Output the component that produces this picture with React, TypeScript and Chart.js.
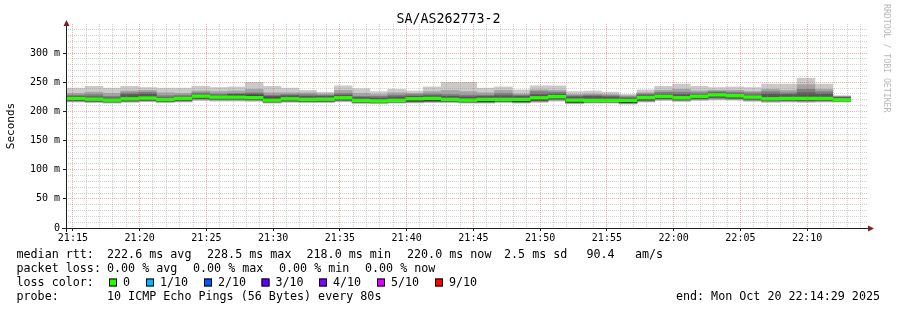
import React, { useEffect, useRef } from 'react';
import { Chart, registerables } from 'chart.js';

Chart.register(...registerables);

// ---- time frame (seconds after 21:00:00) ----
const startTime = 869; // 21:14:29
const endTime = 4469; // 22:14:29
const firstStep = 875; // first 80 s step begins 21:14:35
const stepSeconds = 80;

// ---- sorted ping RTTs per 80 s step (ms): rtt1 = fastest ... rtt10 = slowest ----
const rtt10 = [240, 243, 240, 243, 241, 240, 240, 243, 241, 242, 250, 243, 240, 236, 233, 244, 239, 234, 238, 235, 242, 250, 250, 240, 242, 237, 244, 244, 234, 235, 233, 229, 237, 243, 247, 243, 241, 242, 241, 247, 247, 257, 247, 227];
const rtt9 = [231, 233, 231, 235, 236, 232, 231, 235, 234, 235, 238, 232, 232, 232, 230, 236, 231, 229, 232, 231, 234, 236, 234, 232, 236, 230, 237, 236, 229, 230, 229, 227, 232, 236, 238, 235, 236, 236, 234, 238, 236, 246, 238, 226];
const rtt8 = [228, 229, 226, 232, 233, 227, 228, 232, 230, 231, 232, 228, 229, 229, 228, 231, 226, 226, 228, 229, 230, 229, 228, 228, 231, 228, 234, 233, 227, 228, 227, 225, 230, 233, 233, 232, 234, 233, 232, 234, 232, 238, 234, 225];
const rtt7 = [226, 225, 223, 229, 230, 224, 225, 230, 228, 229, 230, 226, 227, 226, 226, 228, 224, 223, 225, 226, 227, 226, 225, 226, 227, 226, 229, 230, 225, 226, 225, 223, 228, 230, 229, 229, 232, 230, 228, 230, 229, 232, 230, 224];
const rtt6 = [223.3, 222.1, 220.4, 222.7, 223.9, 221.6, 223.3, 227.3, 225.6, 228.1, 227.5, 222.9, 222.7, 221.6, 222, 224.5, 219.9, 219, 220, 222.7, 223.3, 221.6, 220.4, 221.6, 221.6, 221.6, 224.4, 226.5, 220.4, 220, 220, 220, 225, 227, 224.5, 227, 229.5, 228, 225.6, 222.7, 223.3, 223.3, 223.3, 221];
const rtt5 = [221.3, 220.1, 218.4, 220.7, 221.9, 219.6, 221.3, 225.3, 223.6, 223.6, 223, 218.4, 220.7, 219.6, 220, 222.5, 217.9, 217, 218, 218.2, 218.8, 219.6, 218.4, 217.1, 219.6, 217.1, 219.9, 224.5, 215.9, 218, 218, 215.5, 223, 225, 222.5, 225, 227.5, 226, 223.6, 220.7, 221.3, 221.3, 221.3, 219];
const rtt4 = [218.5, 217.5, 216.5, 218, 219, 217.5, 218.5, 222, 221, 221, 220.5, 216.5, 218, 217.5, 217.5, 219.5, 216, 215.5, 216.5, 217, 217.5, 217.5, 216.5, 216.5, 217.5, 216.5, 218.5, 221, 215.5, 216.5, 216.5, 215, 219, 222, 220, 222, 224, 222.5, 220.5, 218.5, 219, 218.5, 219, 218];
const rtt3 = [217.8, 216.8, 215.8, 217.3, 218.3, 216.8, 217.8, 221, 220, 220, 219.5, 215.8, 217.3, 216.8, 216.8, 218.5, 215.3, 214.8, 215.8, 216.3, 216.8, 216.8, 215.8, 215.8, 216.8, 215.8, 217.5, 220, 214.8, 215.8, 215.8, 214.3, 218, 221, 219, 221, 222.5, 221.5, 219.5, 217.5, 218, 217.5, 218, 217.5];
const rtt2 = [217, 216, 215, 216.5, 217.5, 216, 217, 220, 219, 219, 218.5, 215, 216.5, 216, 216, 217.5, 214.5, 214, 215, 215.5, 216, 216, 215, 215, 216, 215, 216.5, 219, 214, 215, 215, 213.5, 217, 220, 218, 220, 221, 220.5, 218.5, 216.5, 217, 216.5, 217, 217];
const rtt1 = [216, 215, 214, 215.5, 216.5, 215, 216, 218.5, 217.5, 217.5, 217, 214, 215.5, 215, 215, 216.5, 213.5, 213, 214, 214.5, 215, 215, 214, 214, 215, 214, 215.5, 217.5, 213, 214, 214, 212.5, 216, 218.5, 217, 218.5, 219.5, 219, 217, 215.5, 216, 215.5, 216, 216];
const medianRtt = [222.3, 221.1, 219.4, 221.7, 222.9, 220.6, 222.3, 226.3, 224.6, 224.6, 224.0, 219.4, 221.7, 220.6, 221.0, 223.5, 218.9, 218.0, 219.0, 221.7, 222.3, 220.6, 219.4, 220.6, 220.6, 220.6, 223.4, 225.5, 219.4, 219.0, 219.0, 219.0, 224.0, 226.0, 223.5, 226.0, 228.5, 227.0, 224.6, 221.7, 222.3, 222.3, 222.3, 220.0];

// ---- text ----
const titleText = 'SA/AS262773-2';
const yAxisTitle = 'Seconds';
const watermark = 'RRDTOOL / TOBI OETIKER';
const statsRtt = ['median rtt:', '222.6 ms avg', '228.5 ms max', '218.0 ms min', '220.0 ms now', '2.5 ms sd', '90.4', 'am/s'];
const statsLoss = ['packet loss:', '0.00 % avg', '0.00 % max', '0.00 % min', '0.00 % now'];
const lossLabels = ['0', '1/10', '2/10', '3/10', '4/10', '5/10', '9/10'];
const lossColors = ['#26ff00', '#00b8ff', '#0059ff', '#5e00ff', '#7e00ff', '#dd00ff', '#ff0000'];
const probeText = ['probe:', '10 ICMP Echo Pings (56 Bytes) every 80s'];
const endText = 'end: Mon Oct 20 22:14:29 2025';

// ---- layout / style ----
const statsRttX = [16.5, 107, 207, 306.5, 407, 504, 586.5, 635];
const statsLossX = [16.5, 107, 193, 279, 365];
const lossTextX = [123, 160, 218, 275.5, 333, 391, 449];
const rowY = [254.5, 268.5, 282.5, 296.5];
const smokeColors = ['#cacaca', '#a4a4a4', '#7e7e7e', '#585858', '#323232'];
const MONO = '"DejaVu Sans Mono", monospace';
const gridColor = 'rgba(143,143,143,0.4)';
const mgridColor = 'rgba(222,79,79,0.45)';
const plotWidth = 801;

const stepCenters = medianRtt.map((_, i) => firstStep + i * stepSeconds + stepSeconds / 2);
const range = (lo: number[], hi: number[]) => stepCenters.map((x, i) => ({ x, y: [lo[i], hi[i]] }));
const medianHalfWidth = 2.3;
const barWidth = (stepSeconds / (endTime - startTime)) * plotWidth;

const fmtTime = (v: number) => {
  const total = 21 * 60 + v / 60;
  const h = Math.floor(total / 60);
  const m = Math.round(total % 60);
  return `${h}:${String(m).padStart(2, '0')}`;
};

const decorPlugin = {
  id: 'rrdDecor',
  afterDraw(chart: any) {
    const ctx: CanvasRenderingContext2D = chart.ctx;
    const { left, right, top, bottom } = chart.chartArea;
    ctx.save();
    // axes
    ctx.strokeStyle = '#1f1f1f';
    ctx.lineWidth = 1;
    ctx.beginPath();
    ctx.moveTo(left - 4, bottom + 0.5);
    ctx.lineTo(right + 2, bottom + 0.5);
    ctx.moveTo(left + 0.5, bottom + 4);
    ctx.lineTo(left + 0.5, top + 1);
    ctx.stroke();
    // arrows
    ctx.fillStyle = '#801f1f';
    ctx.beginPath();
    ctx.moveTo(left + 0.5, top - 4);
    ctx.lineTo(left + 3.5, top + 2);
    ctx.lineTo(left - 2.5, top + 2);
    ctx.closePath();
    ctx.fill();
    ctx.beginPath();
    ctx.moveTo(right + 7, bottom + 0.5);
    ctx.lineTo(right + 1, bottom - 2.5);
    ctx.lineTo(right + 1, bottom + 3.5);
    ctx.closePath();
    ctx.fill();

    // title
    ctx.fillStyle = '#000';
    ctx.textBaseline = 'middle';
    ctx.textAlign = 'center';
    ctx.font = `13.3px ${MONO}`;
    ctx.fillText(titleText, 448.5, 19.5);

    // y-axis title
    ctx.save();
    ctx.translate(11, (top + bottom) / 2);
    ctx.rotate(-Math.PI / 2);
    ctx.font = `11px ${MONO}`;
    ctx.fillText(yAxisTitle, 0, 0);
    ctx.restore();

    // watermark
    ctx.save();
    ctx.translate(886, 4);
    ctx.rotate(Math.PI / 2);
    ctx.textAlign = 'left';
    ctx.fillStyle = 'rgba(0,0,0,0.3)';
    ctx.font = `8.2px ${MONO}`;
    ctx.fillText(watermark, 0, 0);
    ctx.restore();

    // legend rows
    ctx.textAlign = 'left';
    ctx.font = `11.7px ${MONO}`;
    ctx.fillStyle = '#000';
    statsRtt.forEach((t, i) => ctx.fillText(t, statsRttX[i], rowY[0]));
    statsLoss.forEach((t, i) => ctx.fillText(t, statsLossX[i], rowY[1]));
    ctx.fillText('loss color:', 16.5, rowY[2]);
    lossLabels.forEach((t, i) => {
      const bx = lossTextX[i] - 14;
      ctx.fillStyle = lossColors[i];
      ctx.fillRect(bx, rowY[2] - 4, 8, 8);
      ctx.strokeStyle = '#000';
      ctx.strokeRect(bx + 0.5, rowY[2] - 3.5, 7, 7);
      ctx.fillStyle = '#000';
      ctx.fillText(t, lossTextX[i], rowY[2]);
    });
    ctx.fillText(probeText[0], 16.5, rowY[3]);
    ctx.fillText(probeText[1], 107, rowY[3]);
    ctx.textAlign = 'right';
    ctx.fillText(endText, 880, rowY[3]);
    ctx.restore();
  },
};

export default function App() {
  const ref = useRef<HTMLCanvasElement>(null);
  useEffect(() => {
    if (!ref.current) return;
    const layers = [
      range(rtt1, rtt10),
      range(rtt2, rtt9),
      range(rtt3, rtt8),
      range(rtt4, rtt7),
      range(rtt5, rtt6),
    ];
    const datasets: any[] = layers.map((data, i) => ({
      data,
      order: 10 - i,
      backgroundColor: smokeColors[i],
      borderWidth: 0,
      barThickness: barWidth,
      grouped: false,
    }));
    datasets.push({
      data: stepCenters.map((x, i) => ({ x, y: [medianRtt[i] - medianHalfWidth, medianRtt[i] + medianHalfWidth] })),
      order: 0,
      backgroundColor: lossColors[0],
      borderWidth: 0,
      barThickness: barWidth,
      grouped: false,
    });
    const minuteTicks: number[] = [];
    for (let v = Math.ceil(startTime / 60) * 60; v < endTime; v += 60) minuteTicks.push(v);
    const yTicks: number[] = [];
    for (let v = 0; v <= 340; v += 10) yTicks.push(v);

    const chart = new Chart(ref.current, {
      type: 'bar',
      data: { datasets },
      plugins: [decorPlugin],
      options: {
        animation: false,
        responsive: false,
        devicePixelRatio: 1,
        layout: { padding: { left: 0, right: 30, top: 24, bottom: 0 } },
        plugins: { legend: { display: false }, tooltip: { enabled: false }, title: { display: false } },
        scales: {
          x: {
            type: 'linear',
            min: startTime,
            max: endTime,
            offset: false,
            afterBuildTicks: (s: any) => {
              s.ticks = minuteTicks.map((value) => ({ value }));
            },
            afterFit: (s: any) => {
              s.height = 82;
            },
            grid: {
              offset: false,
              z: 1,
              lineWidth: 1,
              color: (c: any) => (c.tick && c.tick.value % 300 === 0 ? mgridColor : gridColor),
              tickColor: (c: any) => (c.tick && c.tick.value % 300 === 0 ? '#1f1f1f' : 'rgba(0,0,0,0)'),
              tickLength: 3,
            },
            border: { display: false, dash: [1, 1] },
            ticks: {
              autoSkip: false,
              maxRotation: 0,
              padding: 1,
              color: '#000',
              font: { family: MONO, size: 10 },
              callback: (v: any) => (Number(v) % 300 === 0 ? fmtTime(Number(v)) : ''),
            },
          },
          y: {
            min: 0,
            max: 350,
            afterBuildTicks: (s: any) => {
              s.ticks = yTicks.map((value) => ({ value }));
            },
            afterFit: (s: any) => {
              s.width = 66;
            },
            grid: {
              z: 1,
              lineWidth: 1,
              color: (c: any) => (c.tick && c.tick.value === 0 ? 'rgba(0,0,0,0)' : c.tick && c.tick.value % 50 === 0 ? mgridColor : gridColor),
              tickColor: (c: any) => (c.tick && c.tick.value % 50 === 0 ? '#1f1f1f' : 'rgba(0,0,0,0)'),
              tickLength: 3,
            },
            border: { display: false, dash: [1, 1] },
            ticks: {
              autoSkip: false,
              padding: 3,
              color: '#000',
              font: { family: MONO, size: 10 },
              callback: (v: any) => {
                const n = Number(v);
                if (n % 50 !== 0) return '';
                return n === 0 ? '0' : `${n} m`;
              },
            },
          },
        },
      },
    });
    return () => chart.destroy();
  }, []);
  return (
    <div style={{ position: 'absolute', left: 0, top: 0, width: 897, height: 310, background: '#fff' }}>
      <canvas ref={ref} width={897} height={310} style={{ display: 'block', width: 897, height: 310 }} />
    </div>
  );
}
